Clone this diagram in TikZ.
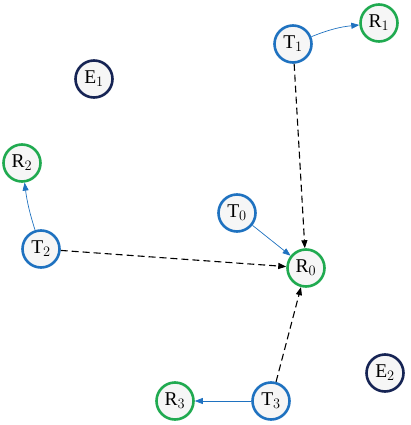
\documentclass[tikz,border=0pt]{standalone}
\usepackage{fontspec}
\setmainfont{Liberation Serif}
\usetikzlibrary{arrows.meta}
\definecolor{tblue}{RGB}{31,114,192}
\definecolor{rgreen}{RGB}{32,170,80}
\definecolor{enavy}{RGB}{22,36,84}
\definecolor{nfill}{RGB}{246,246,246}
\tikzset{
  base/.style={circle,minimum size=37pt,inner sep=0pt,line width=2.6pt,fill=nfill,font=\fontsize{19.5}{19.5}\selectfont},
  tnode/.style={base,draw=tblue},
  rnode/.style={base,draw=rgreen},
  enode/.style={base,draw=enavy},
  link/.style={tblue,line width=0.7pt,-{Triangle[length=8pt,width=6pt]}},
  dlink/.style={black,line width=1.1pt,dash pattern=on 7pt off 4pt,-{Triangle[length=8pt,width=6pt]}}
}
\begin{document}
\begin{tikzpicture}[x=1pt,y=-1pt]
\useasboundingbox (0,0) rectangle (410,425);
\node[tnode] (T1) at (293,44) {T$_1$};
\node[rnode] (R1) at (379,23) {R$_1$};
\node[enode] (E1) at (94,79) {E$_1$};
\node[rnode] (R2) at (22,163) {R$_2$};
\node[tnode] (T2) at (41,249) {T$_2$};
\node[tnode] (T0) at (237,213) {T$_0$};
\node[rnode] (R0) at (306,268) {R$_0$};
\node[tnode] (T3) at (271,401) {T$_3$};
\node[rnode] (R3) at (175,401) {R$_3$};
\node[enode] (E2) at (385,373) {E$_2$};
\draw[link] (T1) to[bend left=8] (R1);
\draw[link] (T0) -- (R0);
\draw[link] (T2) to[bend left=5] (R2);
\draw[link] (T3) -- (R3);
\draw[dlink] (T1) -- (R0);
\draw[dlink] (T2) -- (R0);
\draw[dlink] (T3) -- (R0);
\end{tikzpicture}
\end{document}
